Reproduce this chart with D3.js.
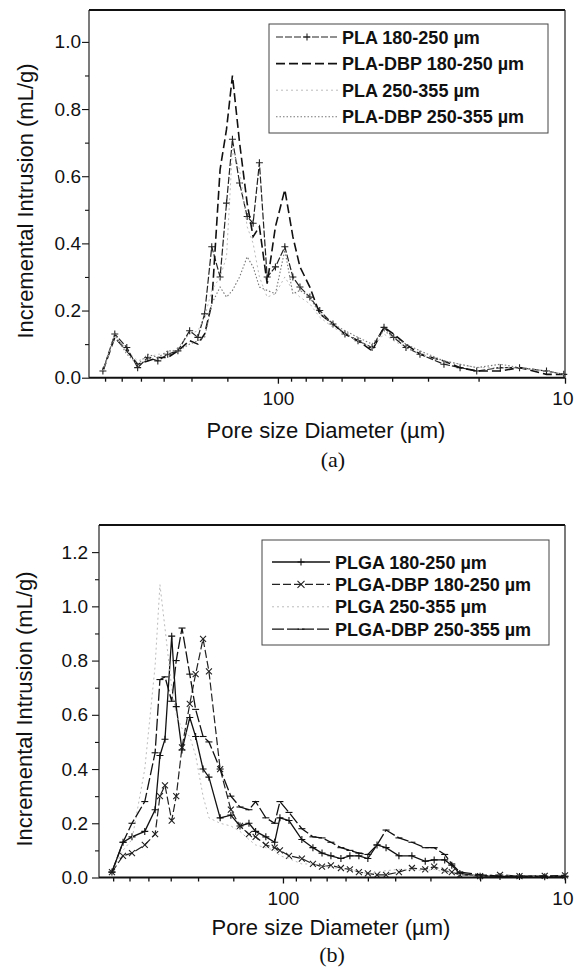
<!DOCTYPE html>
<html>
<head>
<meta charset="utf-8">
<script src="https://cdnjs.cloudflare.com/ajax/libs/d3/7.8.5/d3.min.js"></script>
<style>
  body { margin: 0; background: #fff; }
  svg { display: block; }
</style>
</head>
<body>
<div class="svg-container"></div>
<script>
// ---- panel (a): PLA ----
// pore diameters (um) where the curves were read
const diamA = [407, 370, 336, 308, 284, 262, 242, 223, 203, 190,
  180, 170, 159, 151, 144, 136, 128, 122, 116, 109,
  102, 94.6, 88.7, 83.8, 77.4, 71.5, 64.3, 58.4, 52.6, 47.0,
  42.7, 39.5, 35.8, 32.0, 26.4, 23.2, 20.3, 16.8, 14.4, 11.6, 10.1];

const pla180 = [0.02, 0.13, 0.09, 0.03, 0.06, 0.05, 0.07, 0.08, 0.14, 0.12,
  0.19, 0.39, 0.30, 0.52, 0.71, 0.58, 0.48, 0.46, 0.64, 0.30,
  0.33, 0.39, 0.30, 0.27, 0.24, 0.20, 0.16, 0.13, 0.11, 0.09,
  0.15, 0.12, 0.09, 0.07, 0.04, 0.03, 0.02, 0.03, 0.03, 0.02, 0.01];

const plaDbp180 = [0.02, 0.12, 0.08, 0.04, 0.05, 0.06, 0.06, 0.08, 0.11, 0.10,
  0.13, 0.22, 0.62, 0.74, 0.90, 0.70, 0.52, 0.42, 0.45, 0.28,
  0.45, 0.56, 0.42, 0.33, 0.27, 0.19, 0.16, 0.13, 0.11, 0.08,
  0.15, 0.13, 0.10, 0.07, 0.05, 0.03, 0.02, 0.02, 0.03, 0.01, 0.01];

const pla250 = [0.02, 0.12, 0.08, 0.05, 0.06, 0.07, 0.07, 0.09, 0.13, 0.14,
  0.18, 0.26, 0.30, 0.36, 0.68, 0.62, 0.45, 0.40, 0.30, 0.24,
  0.25, 0.30, 0.26, 0.24, 0.22, 0.18, 0.15, 0.13, 0.11, 0.09,
  0.13, 0.11, 0.09, 0.07, 0.05, 0.04, 0.03, 0.03, 0.03, 0.02, 0.01];

const plaDbp250 = [0.02, 0.13, 0.07, 0.04, 0.07, 0.06, 0.08, 0.08, 0.10, 0.11,
  0.12, 0.22, 0.27, 0.24, 0.26, 0.30, 0.36, 0.33, 0.27, 0.26,
  0.25, 0.38, 0.25, 0.26, 0.24, 0.19, 0.16, 0.14, 0.12, 0.10,
  0.14, 0.12, 0.10, 0.08, 0.05, 0.04, 0.03, 0.04, 0.03, 0.02, 0.01];

// ---- panel (b): PLGA ----
const diamB = [404, 369, 343, 309, 284, 273, 262, 248, 239, 228,
  214, 204, 192, 183, 167, 153, 142, 132, 125, 115,
  107, 102.5, 95.2, 85.7, 78.3, 72.7, 67.6, 62.3, 57.9, 53.8,
  50.0, 46.4, 43.1, 38.8, 34.9, 31.3, 29.1, 26.7, 25.2, 23.6,
  20.0, 17.0, 14.5, 11.8, 10];

const plga180 = [0.02, 0.13, 0.15, 0.17, 0.25, 0.45, 0.51, 0.89, 0.63, 0.47,
  0.59, 0.52, 0.40, 0.37, 0.22, 0.23, 0.19, 0.20, 0.17, 0.15,
  0.13, 0.22, 0.21, 0.14, 0.11, 0.09, 0.08, 0.07, 0.08, 0.08,
  0.07, 0.12, 0.11, 0.08, 0.08, 0.06, 0.065, 0.065, 0.045, 0.015,
  0.005, 0.004, 0.004, 0.003, 0.003];

const plgaDbp180 = [0.02, 0.08, 0.09, 0.12, 0.16, 0.30, 0.34, 0.21, 0.30, 0.48,
  0.64, 0.75, 0.88, 0.76, 0.40, 0.25, 0.19, 0.16, 0.15, 0.12,
  0.11, 0.10, 0.08, 0.07, 0.05, 0.04, 0.045, 0.035, 0.03, 0.02,
  0.015, 0.01, 0.01, 0.02, 0.035, 0.03, 0.04, 0.025, 0.02, 0.01,
  0.005, 0.01, 0.005, 0.006, 0.008];

const plga250 = [0.02, 0.10, 0.14, 0.40, 0.78, 1.08, 0.92, 0.70, 0.60, 0.55,
  0.52, 0.45, 0.30, 0.22, 0.20, 0.19, 0.17, 0.14, 0.12, 0.11,
  0.10, 0.08, 0.07, 0.05, 0.05, 0.04, 0.04, 0.03, 0.03, 0.02,
  0.015, 0.02, 0.025, 0.03, 0.03, 0.025, 0.03, 0.02, 0.02, 0.01,
  0.005, 0.008, 0.005, 0.004, 0.003];

const plgaDbp250 = [0.02, 0.13, 0.20, 0.28, 0.46, 0.73, 0.74, 0.65, 0.80, 0.92,
  0.75, 0.62, 0.52, 0.50, 0.40, 0.30, 0.26, 0.25, 0.28, 0.22,
  0.20, 0.28, 0.24, 0.18, 0.15, 0.146, 0.13, 0.11, 0.10, 0.09,
  0.085, 0.12, 0.175, 0.146, 0.13, 0.11, 0.11, 0.085, 0.05, 0.02,
  0.01, 0.005, 0.005, 0.005, 0.005];

// ticks and labels
const xMajor = [100, 10];
const xMinor = [400, 350, 300, 250, 200, 150, 90, 80, 70, 60, 50, 40, 30, 20];
const yTicksA = [0, 0.2, 0.4, 0.6, 0.8, 1.0];
const yMinorA = [0.1, 0.3, 0.5, 0.7, 0.9];
const yTicksB = [0, 0.2, 0.4, 0.6, 0.8, 1.0, 1.2];
const yMinorB = [0.1, 0.3, 0.5, 0.7, 0.9, 1.1];
const legendA = ['PLA 180-250 \u00b5m', 'PLA-DBP 180-250 \u00b5m', 'PLA 250-355 \u00b5m', 'PLA-DBP 250-355 \u00b5m'];
const legendB = ['PLGA 180-250 \u00b5m', 'PLGA-DBP 180-250 \u00b5m', 'PLGA 250-355 \u00b5m', 'PLGA-DBP 250-355 \u00b5m'];

const sans = "'Liberation Sans', Arial, sans-serif";
const serif = "'Liberation Serif', 'Times New Roman', serif";

const svg = d3.select('.svg-container')
  .append('svg')
  .attr('width', 574)
  .attr('height', 979);

function markerPath(type, s) {
  if (type === 'plus') return `M${-s},0H${s}M0,${-s}V${s}`;
  if (type === 'cross') return `M${-s},${-s}L${s},${s}M${-s},${s}L${s},${-s}`;
  if (type === 'dash') return `M${-s},0H${s}`;
  return '';
}

function drawPanel(p) {
  const x = d3.scaleLog().domain(p.xDomain).range([p.left, p.right]);
  const y = d3.scaleLinear().domain([0, p.yMax]).range([p.bottom, p.top]);
  const g = svg.append('g');

  // series
  const line = d3.line().x((d) => x(d[0])).y((d) => y(d[1]));
  p.series.forEach((s) => {
    const pts = p.diam.map((d, i) => [d, s.values[i]]);
    g.append('path')
      .datum(pts)
      .attr('fill', 'none')
      .attr('stroke', s.color)
      .attr('stroke-width', s.width)
      .attr('stroke-dasharray', s.dash)
      .attr('d', line);
    if (s.marker) {
      g.append('g')
        .selectAll('path')
        .data(pts)
        .enter()
        .append('path')
        .attr('transform', (d) => `translate(${x(d[0])},${y(d[1])})`)
        .attr('d', markerPath(s.marker, s.marker === 'cross' ? 3 : 3.5))
        .attr('stroke', s.color)
        .attr('stroke-width', 1.1)
        .attr('fill', 'none');
    }
  });

  // x axis ticks
  const xg = g.append('g').attr('transform', `translate(0,${p.bottom})`);
  xg.call(d3.axisBottom(x).tickValues(xMajor).tickSize(6).tickFormat(d3.format('d')));
  xg.append('g').call(d3.axisBottom(x).tickValues(xMinor).tickSize(4).tickFormat(''));
  xg.selectAll('.domain').remove();
  xg.selectAll('line').attr('stroke', '#111').attr('stroke-width', 1.3);
  xg.selectAll('text')
    .attr('y', 27.5)
    .attr('dy', null)
    .attr('fill', '#111')
    .style('font-family', sans)
    .style('font-size', '19px');
  // keep the "10" at the right edge inside the page
  xg.selectAll('.tick text')
    .filter((d) => d === 10)
    .attr('text-anchor', 'end')
    .attr('x', 8);

  // y axis ticks
  const yg = g.append('g').attr('transform', `translate(${p.left},0)`);
  yg.call(d3.axisLeft(y).tickValues(p.yTicks).tickSize(7).tickPadding(p.yPad).tickFormat(d3.format('.1f')));
  yg.append('g').call(d3.axisLeft(y).tickValues(p.yMinor).tickSize(4).tickFormat(''));
  yg.selectAll('.domain').remove();
  yg.selectAll('line').attr('stroke', '#111').attr('stroke-width', 1.1);
  yg.selectAll('text')
    .attr('fill', '#111')
    .style('font-family', sans)
    .style('font-size', '19px');

  // frame
  g.append('line').attr('x1', p.left).attr('x2', p.right).attr('y1', p.bottom).attr('y2', p.bottom)
    .attr('stroke', '#111').attr('stroke-width', 2);
  g.append('line').attr('x1', p.left).attr('x2', p.left).attr('y1', p.top).attr('y2', p.bottom)
    .attr('stroke', '#222').attr('stroke-width', 1.2);
  g.append('line').attr('x1', p.left).attr('x2', p.right).attr('y1', p.top).attr('y2', p.top)
    .attr('stroke', '#111').attr('stroke-width', 2);
  g.append('line').attr('x1', p.right).attr('x2', p.right).attr('y1', p.top).attr('y2', p.bottom)
    .attr('stroke', '#222').attr('stroke-width', 1.2);

  // legend
  const lg = g.append('g');
  lg.append('rect')
    .attr('x', p.legend.x).attr('y', p.legend.y)
    .attr('width', p.legend.w).attr('height', p.legend.h)
    .attr('fill', '#fff').attr('stroke', '#444').attr('stroke-width', 1);
  p.series.forEach((s, i) => {
    const cy = p.legend.rowY + i * p.legend.rowGap;
    lg.append('line')
      .attr('x1', p.legend.lineX0).attr('x2', p.legend.lineX1)
      .attr('y1', cy).attr('y2', cy)
      .attr('stroke', s.color).attr('stroke-width', s.width)
      .attr('stroke-dasharray', s.dash);
    if (s.marker) {
      lg.append('path')
        .attr('transform', `translate(${(p.legend.lineX0 + p.legend.lineX1) / 2},${cy})`)
        .attr('d', markerPath(s.marker, 3.5))
        .attr('stroke', s.color).attr('stroke-width', 1.1).attr('fill', 'none');
    }
    lg.append('text')
      .attr('x', p.legend.textX).attr('y', cy + 6.5)
      .style('font-family', sans).style('font-size', '18px').style('font-weight', 'bold')
      .attr('fill', '#111')
      .text(p.labels[i]);
  });

  // axis titles and panel label
  g.append('text')
    .attr('x', (p.left + p.right) / 2 - 1).attr('y', p.xTitleY)
    .attr('text-anchor', 'middle')
    .style('font-family', sans).style('font-size', '22px')
    .attr('fill', '#111')
    .text('Pore size Diameter (\u00b5m)');
  g.append('text')
    .attr('transform', `translate(${p.yTitleX},${p.yTitleCy}) rotate(-90)`)
    .attr('text-anchor', 'middle')
    .style('font-family', sans).style('font-size', '22px')
    .attr('fill', '#111')
    .text('Incremental Intrusion (mL/g)');
  g.append('text')
    .attr('x', p.tagX).attr('y', p.tagY)
    .attr('text-anchor', 'middle')
    .style('font-family', serif).style('font-size', '22px')
    .attr('fill', '#111')
    .text(p.tag);
}

drawPanel({
  left: 89, right: 565, top: 10, bottom: 377.7,
  xDomain: [455, 10], yMax: 1.095,
  yTicks: yTicksA, yMinor: yMinorA, yPad: 1,
  diam: diamA,
  series: [
    { values: pla180, color: '#222', width: 1.2, dash: '7,2', marker: 'plus' },
    { values: plaDbp180, color: '#111', width: 1.6, dash: '9,4', marker: null },
    { values: pla250, color: '#bbb', width: 1, dash: '2,3', marker: null },
    { values: plaDbp250, color: '#777', width: 1.1, dash: '1.5,2', marker: null }
  ],
  labels: legendA,
  legend: { x: 269, y: 24, w: 279, h: 109, rowY: 37, rowGap: 26.6, lineX0: 276, lineX1: 338, textX: 342 },
  xTitleY: 438, yTitleX: 33, yTitleCy: 201,
  tag: '(a)', tagX: 333, tagY: 467
});

drawPanel({
  left: 99, right: 565, top: 525, bottom: 877.5,
  xDomain: [449, 10], yMax: 1.30,
  yTicks: yTicksB, yMinor: yMinorB, yPad: 4,
  diam: diamB,
  series: [
    { values: plga180, color: '#111', width: 1.3, dash: null, marker: 'plus' },
    { values: plgaDbp180, color: '#222', width: 1.2, dash: '8,3', marker: 'cross' },
    { values: plga250, color: '#bbb', width: 1, dash: '2,3', marker: null },
    { values: plgaDbp250, color: '#111', width: 1.3, dash: '12,3', marker: 'dash' }
  ],
  labels: legendB,
  legend: { x: 262, y: 540, w: 287, h: 105, rowY: 562, rowGap: 22.4, lineX0: 272, lineX1: 330, textX: 335 },
  xTitleY: 935, yTitleX: 32, yTitleCy: 709,
  tag: '(b)', tagX: 332, tagY: 962
});
</script>
</body>
</html>
